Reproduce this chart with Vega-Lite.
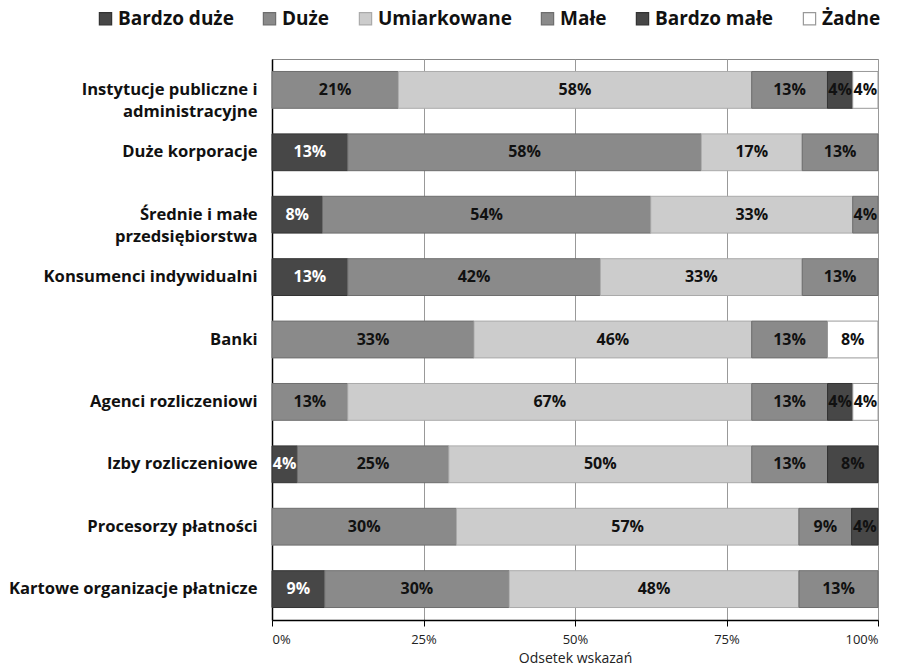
{
  "$schema": "https://vega.github.io/schema/vega-lite/v6.json",
  "width": 606,
  "height": 561,
  "autosize": {"type": "none"},
  "padding": {"left": 272, "top": 59, "right": 22, "bottom": 49},
  "background": "white",
  "config": {
    "view": {"stroke": "#888", "strokeWidth": 1},
    "font": "Open Sans"
  },
  "data": {
    "values": [
      {"g": "Instytucje publiczne i administracyjne", "cat": "Duże", "v": 0.2083},
      {"g": "Instytucje publiczne i administracyjne", "cat": "Umiarkowane", "v": 0.5833},
      {"g": "Instytucje publiczne i administracyjne", "cat": "Małe", "v": 0.125},
      {"g": "Instytucje publiczne i administracyjne", "cat": "Bardzo małe", "v": 0.0417},
      {"g": "Instytucje publiczne i administracyjne", "cat": "Żadne", "v": 0.0417},
      {"g": "Duże korporacje", "cat": "Bardzo duże", "v": 0.125},
      {"g": "Duże korporacje", "cat": "Duże", "v": 0.5833},
      {"g": "Duże korporacje", "cat": "Umiarkowane", "v": 0.1667},
      {"g": "Duże korporacje", "cat": "Małe", "v": 0.125},
      {"g": "Średnie i małe przedsiębiorstwa", "cat": "Bardzo duże", "v": 0.0833},
      {"g": "Średnie i małe przedsiębiorstwa", "cat": "Duże", "v": 0.5417},
      {"g": "Średnie i małe przedsiębiorstwa", "cat": "Umiarkowane", "v": 0.3333},
      {"g": "Średnie i małe przedsiębiorstwa", "cat": "Małe", "v": 0.0417},
      {"g": "Konsumenci indywidualni", "cat": "Bardzo duże", "v": 0.125},
      {"g": "Konsumenci indywidualni", "cat": "Duże", "v": 0.4167},
      {"g": "Konsumenci indywidualni", "cat": "Umiarkowane", "v": 0.3333},
      {"g": "Konsumenci indywidualni", "cat": "Małe", "v": 0.125},
      {"g": "Banki", "cat": "Duże", "v": 0.3333},
      {"g": "Banki", "cat": "Umiarkowane", "v": 0.4583},
      {"g": "Banki", "cat": "Małe", "v": 0.125},
      {"g": "Banki", "cat": "Żadne", "v": 0.0833},
      {"g": "Agenci rozliczeniowi", "cat": "Duże", "v": 0.125},
      {"g": "Agenci rozliczeniowi", "cat": "Umiarkowane", "v": 0.6667},
      {"g": "Agenci rozliczeniowi", "cat": "Małe", "v": 0.125},
      {"g": "Agenci rozliczeniowi", "cat": "Bardzo małe", "v": 0.0417},
      {"g": "Agenci rozliczeniowi", "cat": "Żadne", "v": 0.0417},
      {"g": "Izby rozliczeniowe", "cat": "Bardzo duże", "v": 0.0417},
      {"g": "Izby rozliczeniowe", "cat": "Duże", "v": 0.25},
      {"g": "Izby rozliczeniowe", "cat": "Umiarkowane", "v": 0.5},
      {"g": "Izby rozliczeniowe", "cat": "Małe", "v": 0.125},
      {"g": "Izby rozliczeniowe", "cat": "Bardzo małe", "v": 0.0833},
      {"g": "Procesorzy płatności", "cat": "Duże", "v": 0.3043},
      {"g": "Procesorzy płatności", "cat": "Umiarkowane", "v": 0.5652},
      {"g": "Procesorzy płatności", "cat": "Małe", "v": 0.087},
      {"g": "Procesorzy płatności", "cat": "Bardzo małe", "v": 0.0435},
      {"g": "Kartowe organizacje płatnicze", "cat": "Bardzo duże", "v": 0.087},
      {"g": "Kartowe organizacje płatnicze", "cat": "Duże", "v": 0.3043},
      {"g": "Kartowe organizacje płatnicze", "cat": "Umiarkowane", "v": 0.4783},
      {"g": "Kartowe organizacje płatnicze", "cat": "Małe", "v": 0.1304}
    ]
  },
  "transform": [
    {"calculate": "indexof(['Bardzo duże','Duże','Umiarkowane','Małe','Bardzo małe','Żadne'], datum.cat)", "as": "ord"},
    {"stack": "v", "groupby": ["g"], "sort": [{"field": "ord", "order": "ascending"}], "as": ["v0", "v1"]},
    {"calculate": "(datum.v0 + datum.v1) / 2", "as": "vm"}
  ],
  "encoding": {
    "y": {
      "field": "g",
      "type": "nominal",
      "sort": null,
      "scale": {"paddingInner": 0.41, "paddingOuter": 0.2},
      "axis": {
        "title": null,
        "domain": true,
        "domainColor": "#000",
        "domainWidth": 1.5,
        "ticks": false,
        "labelFont": "Open Sans",
        "labelFontWeight": "bold",
        "labelFontSize": 16.6,
        "labelColor": "#111",
        "labelPadding": 15,
        "labelLimit": 300,
        "labelLineHeight": 22,
        "labelExpr": "datum.label == 'Instytucje publiczne i administracyjne' ? ['Instytucje publiczne i', 'administracyjne'] : datum.label == 'Średnie i małe przedsiębiorstwa' ? ['Średnie i małe', 'przedsiębiorstwa'] : datum.label"
      }
    }
  },
  "layer": [
    {
      "mark": {"type": "bar", "strokeWidth": 1},
      "encoding": {
        "x": {
          "field": "v0",
          "type": "quantitative",
          "scale": {"domain": [0, 1], "nice": false},
          "axis": {
            "values": [0, 0.25, 0.5, 0.75, 1],
            "format": ".0%",
            "grid": true,
            "gridColor": "#999",
            "gridWidth": 1,
            "domainColor": "#000",
            "domainWidth": 1.5,
            "tickColor": "#000",
            "tickSize": 6,
            "labelFont": "Open Sans",
            "labelFontSize": 13,
            "labelColor": "#222",
            "labelPadding": 7,
            "title": "Odsetek wskazań",
            "titleFont": "Open Sans",
            "titleFontSize": 14,
            "titleFontWeight": "normal",
            "titleColor": "#222",
            "titlePadding": 5
          }
        },
        "x2": {"field": "v1"},
        "color": {
          "field": "cat",
          "type": "nominal",
          "scale": {
            "domain": ["Bardzo duże", "Duże", "Umiarkowane", "Małe", "Bardzo małe", "Żadne"],
            "range": ["#474747", "#8a8a8a", "#cccccc", "#8a8a8a", "#474747", "#ffffff"]
          },
          "legend": {
            "title": null,
            "orient": "none",
            "legendX": -176,
            "legendY": -50,
            "direction": "horizontal",
            "columns": 6,
            "symbolType": "square",
            "symbolSize": 150,
            "symbolStrokeColor": "#222",
            "symbolStrokeWidth": 1.2,
            "labelFont": "Open Sans",
            "labelFontWeight": "bold",
            "labelFontSize": 19,
            "labelColor": "#111",
            "labelOffset": 3,
            "columnPadding": 26,
            "labelLimit": 300
          }
        },
        "stroke": {
          "field": "cat",
          "type": "nominal",
          "scale": {
            "domain": ["Bardzo duże", "Duże", "Umiarkowane", "Małe", "Bardzo małe", "Żadne"],
            "range": ["#333333", "#6e6e6e", "#aaaaaa", "#6e6e6e", "#333333", "#999999"]
          },
          "legend": null
        }
      }
    },
    {
      "mark": {"type": "text", "font": "Open Sans", "fontWeight": "bold", "fontSize": 16, "baseline": "middle", "align": "center"},
      "encoding": {
        "x": {"field": "vm", "type": "quantitative"},
        "text": {"field": "v", "type": "quantitative", "format": ".0%"},
        "color": {
          "condition": {"test": "datum.cat == 'Bardzo duże'", "value": "#ffffff"},
          "value": "#111111"
        }
      }
    }
  ]
}
